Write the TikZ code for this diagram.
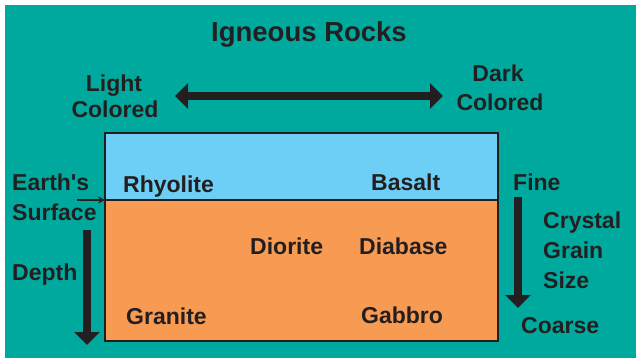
\documentclass[tikz,border=0pt]{standalone}
\usepackage{fontspec}
\setmainfont{Liberation Sans}
\usetikzlibrary{arrows.meta}
\definecolor{teal1}{HTML}{00A99D}
\definecolor{skyb}{HTML}{6DCFF6}
\definecolor{orng}{HTML}{F79A52}
\definecolor{ink}{HTML}{231F20}
\tikzset{
  lbl/.style={inner sep=0pt, text=ink, font=\fontsize{23}{30}\selectfont\bfseries},
  ttl/.style={inner sep=0pt, text=ink, font=\fontsize{27.5}{32}\selectfont\bfseries},
  bigarrow/.style={draw=ink, line width=8pt, -{Triangle[width=25pt,length=13pt]}},
  bigdarrow/.style={draw=ink, line width=8pt, {Triangle[width=25pt,length=13pt]}-{Triangle[width=25pt,length=13pt]}},
  thinarrow/.style={draw=ink, line width=1.3pt, -{Stealth[width=7pt,length=7pt]}}
}
\begin{document}
\begin{tikzpicture}[x=1pt,y=-1pt]
\useasboundingbox (0,0) rectangle (636,358);
\fill[white] (0,0) rectangle (636,358);
\fill[teal1] (5,5) rectangle (636,358);
% box
\fill[skyb] (105,133) rectangle (498,200);
\fill[orng] (105,200) rectangle (498,341);
\draw[ink, line width=1.5pt] (105,133) rectangle (498,341);
\draw[ink, line width=1.5pt] (105,200) coordinate (surfL) -- (498,200);
% title
\node[ttl, anchor=base] (title) at (309,41.7) {Igneous Rocks};
% light / dark
\node[lbl, anchor=base] (light1) at (114,91.5) {Light};
\node[lbl, anchor=base] (light2) at (115,117.5) {Colored};
\node[lbl, anchor=base] (dark1) at (498,81.5) {Dark};
\node[lbl, anchor=base] (dark2) at (500,111) {Colored};
\coordinate (lc) at (175,96);
\coordinate (dc) at (443,96);
\draw[bigdarrow] (lc) -- (dc);
% rock names
\node[lbl, anchor=base west] (rhy) at (123,192) {Rhyolite};
\node[lbl, anchor=base west] (bas) at (371,190) {Basalt};
\node[lbl, anchor=base west] (dio) at (250,254) {Diorite};
\node[lbl, anchor=base west] (dia) at (359,254) {Diabase};
\node[lbl, anchor=base west] (gra) at (126,324) {Granite};
\node[lbl, anchor=base west] (gab) at (361,323) {Gabbro};
% left labels
\node[lbl, anchor=base west] (earth) at (12,190) {Earth\textquotesingle s};
\node[lbl, anchor=base west] (surf) at (12,220) {Surface};
\node[lbl, anchor=base west] (depth) at (12,280) {Depth};
\coordinate (sa) at (77,200);
\draw[thinarrow] (sa) -- (surfL);
\coordinate (d1) at (87,230);
\coordinate (d2) at (87,345);
\draw[bigarrow] (d1) -- (d2);
% right labels
\node[lbl, anchor=base west] (fine) at (513,190) {Fine};
\node[lbl, anchor=base west] (crys) at (543,228) {Crystal};
\node[lbl, anchor=base west] (grain) at (543,258) {Grain};
\node[lbl, anchor=base west] (size) at (543,288) {Size};
\node[lbl, anchor=base west] (coarse) at (521,333) {Coarse};
\coordinate (c1) at (518,197);
\coordinate (c2) at (518,308);
\draw[bigarrow] (c1) -- (c2);
\end{tikzpicture}
\end{document}
